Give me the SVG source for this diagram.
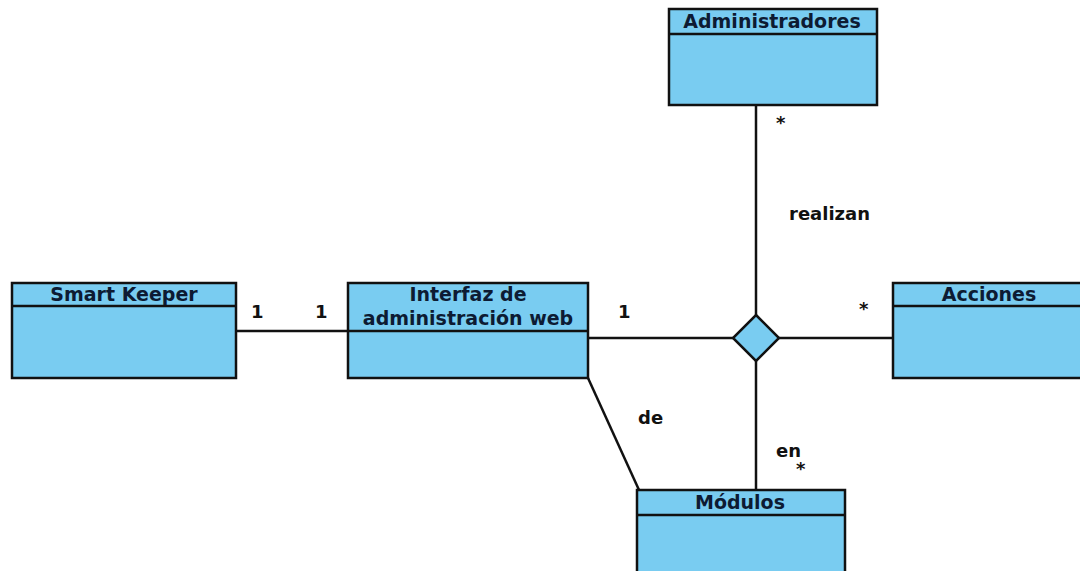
<svg xmlns="http://www.w3.org/2000/svg" width="1080" height="571" viewBox="0 0 1080 571">
  <style>
    .box { fill: #79ccf1; stroke: #111; stroke-width: 2.5; }
    .sep { stroke: #111; stroke-width: 2.5; }
    .title { font-family: "DejaVu Sans", sans-serif; font-weight: bold; font-size: 19px; fill: #0d1b33; text-anchor: middle; }
    .lbl { font-family: "DejaVu Sans", sans-serif; font-weight: bold; font-size: 18px; fill: #111; }
    .conn { stroke: #111; stroke-width: 2.5; fill: none; }
  </style>
  <rect width="1080" height="571" fill="#fff"/>

  <g id="connectors">
    <line class="conn" x1="236" y1="331" x2="348" y2="331"/>
    <line class="conn" x1="588" y1="338" x2="733" y2="338"/>
    <line class="conn" x1="779" y1="338" x2="893" y2="338"/>
    <line class="conn" x1="756" y1="105" x2="756" y2="315"/>
    <line class="conn" x1="756" y1="361" x2="756" y2="490"/>
    <line class="conn" x1="588" y1="378" x2="639" y2="490"/>
    <polygon id="assoc" points="756,315 779,338 756,361 733,338" fill="#79ccf1" stroke="#111" stroke-width="2.5"/>
    <text class="lbl" x="251" y="318">1</text>
    <text class="lbl" x="315" y="318">1</text>
    <text class="lbl" x="618" y="318">1</text>
    <text class="lbl" x="776" y="129">*</text>
    <text class="lbl" x="789" y="220">realizan</text>
    <text class="lbl" x="859" y="315">*</text>
    <text class="lbl" x="638" y="424">de</text>
    <text class="lbl" x="776" y="457">en</text>
    <text class="lbl" x="796" y="475">*</text>
  </g>

  <g id="administradores">
    <rect class="box" x="669" y="9" width="208" height="96"/>
    <line class="sep" x1="669" y1="34" x2="877" y2="34"/>
    <text class="title" x="772" y="28">Administradores</text>
  </g>

  <g id="smart-keeper">
    <rect class="box" x="12" y="283" width="224" height="95"/>
    <line class="sep" x1="12" y1="306" x2="236" y2="306"/>
    <text class="title" x="124" y="301">Smart Keeper</text>
  </g>

  <g id="interfaz">
    <rect class="box" x="348" y="283" width="240" height="95"/>
    <line class="sep" x1="348" y1="331" x2="588" y2="331"/>
    <text class="title" x="468" y="301">Interfaz de</text>
    <text class="title" x="468" y="325">administración web</text>
  </g>

  <g id="acciones">
    <rect class="box" x="893" y="283" width="200" height="95"/>
    <line class="sep" x1="893" y1="306" x2="1080" y2="306"/>
    <text class="title" x="989" y="301">Acciones</text>
  </g>

  <g id="modulos">
    <rect class="box" x="637" y="490" width="208" height="95"/>
    <line class="sep" x1="637" y1="515" x2="845" y2="515"/>
    <text class="title" x="740" y="509">Módulos</text>
  </g>
</svg>
